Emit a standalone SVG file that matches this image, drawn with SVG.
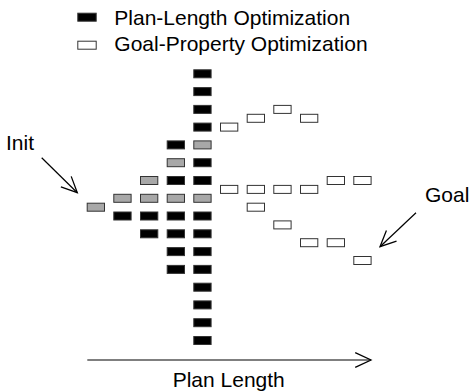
<svg xmlns="http://www.w3.org/2000/svg" width="470" height="392" viewBox="0 0 470 392">
<defs>
<style>
text{font-family:"Liberation Sans",Arial,sans-serif;font-size:21px;fill:#000}
.b{fill:#000;stroke:#333;stroke-width:1}
.g{fill:#a8a8a8;stroke:#333;stroke-width:1}
.w{fill:#fff;stroke:#333;stroke-width:1}
.ln{fill:none;stroke:#000;stroke-width:1.2}
</style>
<marker id="ah" markerUnits="userSpaceOnUse" markerWidth="20" markerHeight="20" viewBox="-17 -9 19 18" refX="0" refY="0" orient="auto">
<path d="M-15,-7 L0,0 L-15,7" fill="none" stroke="#000" stroke-width="1.2"/>
</marker>
</defs>
<g id="legend">
<g id="legend-plan"><rect class="b" x="77.8" y="13.2" width="18.4" height="8"/><text x="114.3" y="25.3">Plan-Length Optimization</text></g>
<g id="legend-goal"><rect class="w" x="77.8" y="41.2" width="18.4" height="8"/><text x="114.3" y="51.3">Goal-Property Optimization</text></g>
</g>
<g id="labels">
<text id="init-label" x="6" y="150">Init</text>
<text id="goal-label" x="425" y="201.7">Goal</text>
<text id="axis-label" x="172.7" y="386.7">Plan Length</text>
</g>
<g id="connectors">
<line id="init-arrow" class="ln" x1="41.7" y1="157.7" x2="77.3" y2="192.7" marker-end="url(#ah)"/>
<line id="goal-arrow" class="ln" x1="416" y1="212.7" x2="380" y2="246.7" marker-end="url(#ah)"/>
<line id="axis" class="ln" x1="87.3" y1="360" x2="371" y2="360" marker-end="url(#ah)"/>
</g>
<g id="nodes">
<g id="n-c0-init"><rect class="g" x="87.2" y="203.2" width="17.3" height="8"/></g>
<g id="n-c1-r7"><rect class="g" x="113.8" y="194.3" width="17.3" height="8"/></g>
<g id="n-c1-r8"><rect class="b" x="113.8" y="212" width="17.3" height="8"/></g>
<g id="n-c2-r6"><rect class="g" x="140.5" y="176.5" width="17.3" height="8"/></g>
<g id="n-c2-r7"><rect class="g" x="140.5" y="194.3" width="17.3" height="8"/></g>
<g id="n-c2-r8"><rect class="b" x="140.5" y="212" width="17.3" height="8"/></g>
<g id="n-c2-r9"><rect class="b" x="140.5" y="229.8" width="17.3" height="8"/></g>
<g id="n-c3-r4"><rect class="b" x="167.2" y="140.9" width="17.3" height="8"/></g>
<g id="n-c3-r5"><rect class="g" x="167.2" y="158.7" width="17.3" height="8"/></g>
<g id="n-c3-r6"><rect class="b" x="167.2" y="176.5" width="17.3" height="8"/></g>
<g id="n-c3-r7"><rect class="g" x="167.2" y="194.3" width="17.3" height="8"/></g>
<g id="n-c3-r8"><rect class="b" x="167.2" y="212" width="17.3" height="8"/></g>
<g id="n-c3-r9"><rect class="b" x="167.2" y="229.8" width="17.3" height="8"/></g>
<g id="n-c3-r10"><rect class="b" x="167.2" y="247.6" width="17.3" height="8"/></g>
<g id="n-c3-r11"><rect class="b" x="167.2" y="265.4" width="17.3" height="8"/></g>
<g id="n-c4-r0"><rect class="b" x="193.8" y="69.8" width="17.3" height="8"/></g>
<g id="n-c4-r1"><rect class="b" x="193.8" y="87.6" width="17.3" height="8"/></g>
<g id="n-c4-r2"><rect class="b" x="193.8" y="105.4" width="17.3" height="8"/></g>
<g id="n-c4-r3"><rect class="b" x="193.8" y="123.1" width="17.3" height="8"/></g>
<g id="n-c4-r4"><rect class="g" x="193.8" y="140.9" width="17.3" height="8"/></g>
<g id="n-c4-r5"><rect class="b" x="193.8" y="158.7" width="17.3" height="8"/></g>
<g id="n-c4-r6"><rect class="b" x="193.8" y="176.5" width="17.3" height="8"/></g>
<g id="n-c4-r7"><rect class="g" x="193.8" y="194.3" width="17.3" height="8"/></g>
<g id="n-c4-r8"><rect class="b" x="193.8" y="212" width="17.3" height="8"/></g>
<g id="n-c4-r9"><rect class="b" x="193.8" y="229.8" width="17.3" height="8"/></g>
<g id="n-c4-r10"><rect class="b" x="193.8" y="247.6" width="17.3" height="8"/></g>
<g id="n-c4-r11"><rect class="b" x="193.8" y="265.4" width="17.3" height="8"/></g>
<g id="n-c4-r12"><rect class="b" x="193.8" y="283.2" width="17.3" height="8"/></g>
<g id="n-c4-r13"><rect class="b" x="193.8" y="300.9" width="17.3" height="8"/></g>
<g id="n-c4-r14"><rect class="b" x="193.8" y="318.7" width="17.3" height="8"/></g>
<g id="n-c4-r15"><rect class="b" x="193.8" y="336.5" width="17.3" height="8"/></g>
<g id="w-c5-r3"><rect class="w" x="220.5" y="123.1" width="17.3" height="8"/></g>
<g id="w-c6-r2h"><rect class="w" x="247.2" y="114.3" width="17.3" height="8"/></g>
<g id="w-c7-r2"><rect class="w" x="273.8" y="105.4" width="17.3" height="8"/></g>
<g id="w-c8-r2h"><rect class="w" x="300.5" y="114.3" width="17.3" height="8"/></g>
<g id="w-c5-r6h"><rect class="w" x="220.5" y="185.4" width="17.3" height="8"/></g>
<g id="w-c6-r6h"><rect class="w" x="247.2" y="185.4" width="17.3" height="8"/></g>
<g id="w-c7-r6h"><rect class="w" x="273.8" y="185.4" width="17.3" height="8"/></g>
<g id="w-c8-r6h"><rect class="w" x="300.5" y="185.4" width="17.3" height="8"/></g>
<g id="w-c9-r6"><rect class="w" x="327.2" y="176.5" width="17.3" height="8"/></g>
<g id="w-c10-r6"><rect class="w" x="353.8" y="176.5" width="17.3" height="8"/></g>
<g id="w-c6-r7h"><rect class="w" x="247.2" y="203.2" width="17.3" height="8"/></g>
<g id="w-c7-r8h"><rect class="w" x="273.8" y="220.9" width="17.3" height="8"/></g>
<g id="w-c8-r9h"><rect class="w" x="300.5" y="238.7" width="17.3" height="8"/></g>
<g id="w-c9-r9h"><rect class="w" x="327.2" y="238.7" width="17.3" height="8"/></g>
<g id="w-c10-r10h"><rect class="w" x="353.8" y="256.5" width="17.3" height="8"/></g>
</g>
</svg>
